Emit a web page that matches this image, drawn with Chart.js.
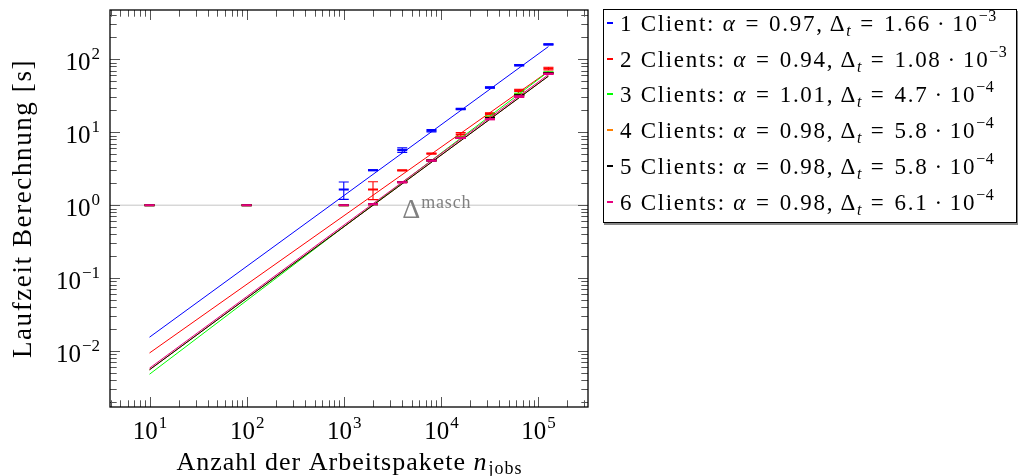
<!DOCTYPE html>
<html>
<head>
<meta charset="utf-8">
<script src="https://cdn.jsdelivr.net/npm/chart.js@4.4.1/dist/chart.umd.min.js"></script>
<style>
  html, body { margin: 0; padding: 0; background: #fff; }
  #wrap { position: relative; width: 1018px; height: 476px; }
  #legendBox {
    position: absolute; left: 603px; top: 9px; width: 414px; height: 214px;
    box-sizing: border-box; border: 1px solid #000; box-shadow: 1px 2px 0 #888;
    background: #fff;
  }
  .row {
    position: absolute; left: 607px; white-space: nowrap;
    font-family: "Liberation Serif", serif; font-size: 23px; line-height: 30px; color: #000;
    letter-spacing: 1.7px;
  }
  .row sup, .row sub { line-height: 0; font-size: 16px; letter-spacing: 0.5px; }
  .row sub { vertical-align: -5px; }
  .row sup { vertical-align: 10px; }
  .rel { margin: 0 9px; }
  .bin { margin: 0 6px; }
  .sw { display: inline-block; width: 6px; height: 2px; vertical-align: 7px; margin-right: 7px; }
</style>
</head>
<body>
<div id="wrap">
  <canvas id="chart" width="1018" height="476"></canvas>
  <div id="legendBox"></div>
</div>
<script>
// x values: number of job packages
const nJobs = [10, 100, 1000, 2000, 4000, 8000, 16000, 32000, 64000, 128000];

// fit parameters shown in the legend: t = deltaT * n^alpha
const clientNames = ['1 Client', '2 Clients', '3 Clients', '4 Clients', '5 Clients', '6 Clients'];
const alphaFit = [0.97, 0.94, 1.01, 0.98, 0.98, 0.98];
const deltaFit = [1.66e-3, 1.08e-3, 4.7e-4, 5.8e-4, 5.8e-4, 6.1e-4];
const colors = ['#0000ff', '#ff0000', '#00ff00', '#ff8000', '#000000', '#e6007e'];

// measured run times [s] and their errors
const time1 = [1, 1, 1.64, 3.02, 5.7, 10.45, 20.8, 41, 83, 160];
const err1  = [0, 0, 0.44, 0.04, 0.4, 0.4, 0.5, 0.9, 2, 2.5];
const time2 = [1, 1, 1, 1.64, 3.0, 5.1, 9.35, 17.9, 37.6, 74.6];
const err2  = [0, 0, 0, 0.45, 0.03, 0.06, 0.55, 0.5, 1.3, 3.3];
const time3 = [1, 1, 1, 1.03, 2.08, 4.15, 8.45, 16.4, 33.6, 66];
const err3  = [0, 0, 0, 0.01, 0.02, 0.05, 0.1, 0.2, 0.6, 1.0];
const time4 = [1, 1, 1, 1.03, 2.07, 4.12, 8.4, 16.0, 32.5, 65];
const err4  = [0, 0, 0, 0.01, 0.02, 0.05, 0.1, 0.2, 0.6, 1.0];
const time5 = [1, 1, 1, 1.03, 2.07, 4.1, 8.38, 15.7, 32, 64.5];
const err5  = [0, 0, 0, 0.01, 0.02, 0.05, 0.1, 0.2, 0.6, 1.0];
const time6 = [1, 1, 1, 1.03, 2.06, 4.08, 8.35, 15.1, 30.8, 63];
const err6  = [0, 0, 0, 0.01, 0.02, 0.05, 0.1, 0.3, 0.9, 1.2];

const times = [time1, time2, time3, time4, time5, time6];
const errs = [err1, err2, err3, err4, err5, err6];

// axis ranges and tick decades
const xRange = [3.92, 3.27e5];
const yRange = [1.71e-3, 474];
const xDecades = [1, 2, 3, 4, 5];
const yDecades = [-2, -1, 0, 1, 2];

// machine time resolution line
const deltaMasch = 1;
const deltaLabelAt = 4000;

const FONT = '"Liberation Serif", serif';
const MINUS = '\u2212';

function expText(k) {
    return k < 0 ? MINUS + Math.abs(k) : String(k);
}

// draws error bars right after each data set
const errorBars = {
    id: 'errorBars',
    afterDatasetDraw(chart, args) {
        const ds = chart.data.datasets[args.index];
        if (!ds.errors) return;
        const ctx = chart.ctx;
        const x = chart.scales.x, y = chart.scales.y;
        ctx.save();
        ctx.strokeStyle = ds.borderColor;
        ctx.lineWidth = 1.1;
        ds.data.forEach((p, k) => {
            const e = ds.errors[k];
            if (!e) return;
            const px = x.getPixelForValue(p.x);
            const top = y.getPixelForValue(p.y + e);
            const bot = y.getPixelForValue(p.y - e);
            ctx.beginPath();
            ctx.moveTo(px, top); ctx.lineTo(px, bot);
            ctx.moveTo(px - 5, top); ctx.lineTo(px + 5, top);
            ctx.moveTo(px - 5, bot); ctx.lineTo(px + 5, bot);
            ctx.stroke();
        });
        ctx.restore();
    }
};

function logTicks(range) {
    const out = [];
    const k0 = Math.floor(Math.log10(range[0]));
    const k1 = Math.ceil(Math.log10(range[1]));
    for (let k = k0; k <= k1; k++) {
        for (let d = 1; d <= 9; d++) {
            const v = d * Math.pow(10, k);
            if (v >= range[0] && v <= range[1]) out.push({ v, major: d === 1 });
        }
    }
    return out;
}

const axisFrame = {
    id: 'axisFrame',
    beforeDatasetsDraw(chart) {
        const { ctx, chartArea: a } = chart;
        const x = chart.scales.x, y = chart.scales.y;
        const py = y.getPixelForValue(deltaMasch);
        ctx.save();
        ctx.strokeStyle = '#c4c4c4';
        ctx.lineWidth = 1;
        ctx.beginPath();
        ctx.moveTo(a.left, py); ctx.lineTo(a.right, py);
        ctx.stroke();
        ctx.fillStyle = '#808080';
        const px = x.getPixelForValue(deltaLabelAt);
        ctx.font = '28px ' + FONT;
        ctx.fillText('\u0394', px, py + 12.5);
        const w = ctx.measureText('\u0394').width;
        ctx.font = '18px ' + FONT;
        ctx.letterSpacing = '0.8px';
        ctx.fillText('masch', px + w + 1, py + 3);
        ctx.restore();
    },
    afterDraw(chart) {
        const { ctx, chartArea: a } = chart;
        const x = chart.scales.x, y = chart.scales.y;
        ctx.save();
        // ticks pointing inwards on all four sides
        ctx.strokeStyle = '#555';
        ctx.lineWidth = 1;
        ctx.beginPath();
        logTicks(xRange).forEach(t => {
            const px = Math.round(x.getPixelForValue(t.v)) + 0.5;
            const len = t.major ? 10 : 6.7;
            ctx.moveTo(px, a.bottom); ctx.lineTo(px, a.bottom - len);
            ctx.moveTo(px, a.top); ctx.lineTo(px, a.top + len);
        });
        logTicks(yRange).forEach(t => {
            const py = Math.round(y.getPixelForValue(t.v)) + 0.5;
            const len = t.major ? 10 : 6.7;
            ctx.moveTo(a.left, py); ctx.lineTo(a.left + len, py);
            ctx.moveTo(a.right, py); ctx.lineTo(a.right - len, py);
        });
        ctx.stroke();
        ctx.strokeStyle = '#000';
        ctx.lineWidth = 1.3;
        ctx.strokeRect(a.left, a.top, a.right - a.left, a.bottom - a.top);

        // tick labels 10^k
        ctx.fillStyle = '#000';
        ctx.textAlign = 'left';
        ctx.textBaseline = 'alphabetic';
        xDecades.forEach(k => {
            const px = x.getPixelForValue(Math.pow(10, k));
            ctx.font = '25px ' + FONT;
            const wb = ctx.measureText('10').width;
            ctx.font = '17px ' + FONT;
            const we = ctx.measureText(expText(k)).width;
            const left = px - (wb + we) / 2;
            ctx.font = '25px ' + FONT;
            ctx.fillText('10', left, 439);
            ctx.font = '17px ' + FONT;
            ctx.fillText(expText(k), left + wb + 1, 428);
        });
        yDecades.forEach(k => {
            const py = y.getPixelForValue(Math.pow(10, k));
            ctx.font = '17px ' + FONT;
            const we = ctx.measureText(expText(k)).width;
            ctx.font = '25px ' + FONT;
            const wb = ctx.measureText('10').width;
            const right = 100;
            ctx.fillText('10', right - we - wb - 1, py + 10.5);
            ctx.font = '17px ' + FONT;
            ctx.fillText(expText(k), right - we, py + 0);
        });

        // axis titles
        ctx.letterSpacing = '1.6px';
        ctx.font = '27px ' + FONT;
        ctx.save();
        ctx.translate(31, 208.5);
        ctx.rotate(-Math.PI / 2);
        ctx.textAlign = 'center';
        ctx.fillText('Laufzeit Berechnung [s]', 0, 0);
        ctx.restore();

        ctx.letterSpacing = '1px';
        const t1 = 'Anzahl der Arbeitspakete ';
        ctx.font = '26px ' + FONT;
        const w1 = ctx.measureText(t1).width;
        ctx.font = 'italic 26px ' + FONT;
        const w2 = ctx.measureText('n').width;
        ctx.font = '18px ' + FONT;
        const w3 = ctx.measureText('jobs').width;
        let sx = (a.left + a.right) / 2 - (w1 + w2 + w3) / 2;
        ctx.font = '26px ' + FONT;
        ctx.fillText(t1, sx, 470);
        ctx.font = 'italic 26px ' + FONT;
        ctx.fillText('n', sx + w1, 470);
        ctx.font = '18px ' + FONT;
        ctx.fillText('jobs', sx + w1 + w2 + 1, 474);
        ctx.restore();
    }
};

const datasets = [];
clientNames.forEach((name, i) => {
    datasets.push({
        label: name,
        data: nJobs.map((n, k) => ({ x: n, y: times[i][k] })),
        errors: errs[i],
        showLine: false,
        pointStyle: 'line',
        pointRadius: 5,
        pointBorderWidth: 2,
        borderColor: colors[i],
        backgroundColor: colors[i],
        order: 11 - 2 * i
    });
    const ends = [nJobs[0], nJobs[nJobs.length - 1]];
    datasets.push({
        label: name + ' Fit',
        data: ends.map(n => ({ x: n, y: deltaFit[i] * Math.pow(n, alphaFit[i]) })),
        showLine: true,
        pointRadius: 0,
        borderWidth: 1,
        borderColor: colors[i],
        backgroundColor: colors[i],
        order: 10 - 2 * i
    });
});

new Chart(document.getElementById('chart'), {
    type: 'scatter',
    data: { datasets },
    options: {
        responsive: false,
        animation: false,
        layout: { padding: { left: 110, top: 10, right: 430, bottom: 69 } },
        plugins: { legend: { display: false }, tooltip: { enabled: false } },
        scales: {
            x: { type: 'logarithmic', min: xRange[0], max: xRange[1], display: false },
            y: { type: 'logarithmic', min: yRange[0], max: yRange[1], display: false }
        }
    },
    plugins: [errorBars, axisFrame]
});

// legend built from the fit parameters
const wrap = document.getElementById('wrap');
clientNames.forEach((name, i) => {
    const e = Math.floor(Math.log10(deltaFit[i]));
    const m = parseFloat((deltaFit[i] / Math.pow(10, e)).toPrecision(3));
    const row = document.createElement('div');
    row.className = 'row';
    row.style.top = (9 + i * 35.7) + 'px';
    row.innerHTML = '<span class="sw" style="background:' + colors[i] + '"></span>' +
        name + ': <i>\u03b1</i><span class="rel">=</span>' + alphaFit[i].toFixed(2) +
        ', \u0394<sub><i>t</i></sub><span class="rel">=</span>' +
        m + '<span class="bin">\u00b7</span>10<sup>' + expText(e) + '</sup>';
    wrap.appendChild(row);
});
</script>
</body>
</html>
